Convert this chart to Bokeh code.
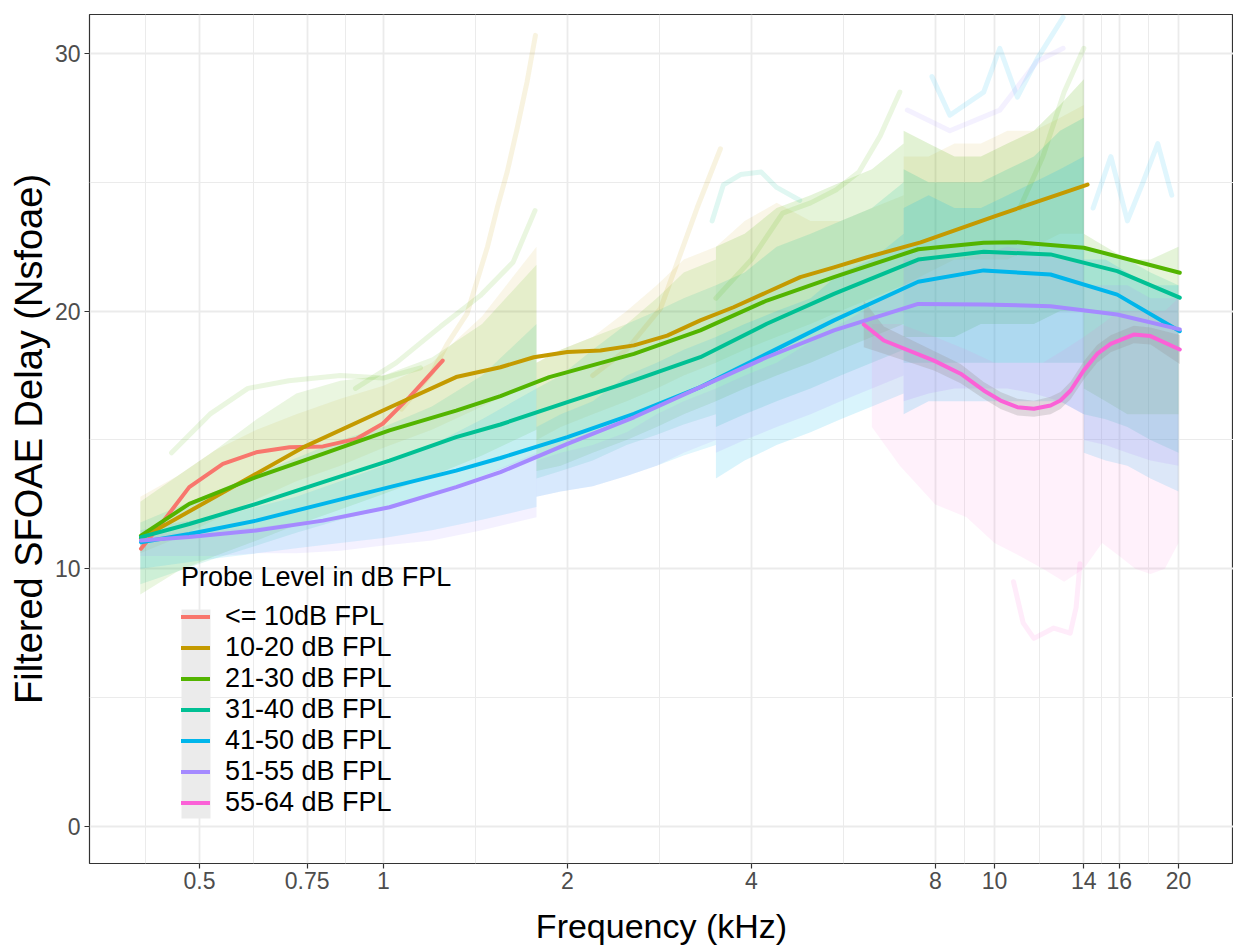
from bokeh.plotting import figure
from bokeh.models import (Range1d, FixedTicker, CustomJSTickFormatter, Legend,
                          LegendItem, BoxAnnotation)
from bokeh.embed import file_html
from bokeh.resources import INLINE

# ---------------- data ----------------
GROUPS = ["<= 10dB FPL", "10-20 dB FPL", "21-30 dB FPL", "31-40 dB FPL",
          "41-50 dB FPL", "51-55 dB FPL", "55-64 dB FPL"]
COLORS = ["#F8766D", "#C49A00", "#53B400", "#00C094", "#00B6EB", "#A58AFF", "#FB61D7"]

X_TICKS = [0.5, 0.75, 1, 2, 4, 8, 10, 14, 16, 20]
Y_TICKS = [0, 10, 20, 30]
Y_MINOR = [5, 15, 25]

# smoothed curves (frequency kHz, delay)
RED_F = [0.401, 0.435, 0.481, 0.546, 0.619, 0.702, 0.796, 0.902, 0.997, 1.103, 1.25]
RED_Y = [10.78, 11.81, 13.17, 14.07, 14.52, 14.72, 14.75, 15.04, 15.63, 16.66, 18.08]
ORANGE_F = [0.401, 0.546, 0.737, 1.023, 1.315, 1.554, 1.762, 2.0, 2.265, 2.57, 2.913,
            3.30, 3.74, 4.24, 4.81, 5.46, 6.19, 7.57, 10.0, 14.2]
ORANGE_Y = [11.18, 12.96, 14.7, 16.26, 17.44, 17.82, 18.21, 18.41, 18.47, 18.67, 19.05,
            19.64, 20.15, 20.73, 21.32, 21.7, 22.09, 22.67, 23.68, 24.91]
GREEN_F = [0.401, 0.481, 0.619, 0.796, 1.023, 1.315, 1.554, 1.868, 2.57, 3.30, 4.24,
           5.46, 7.5, 9.6, 10.88, 14.0, 20.1]
GREEN_Y = [11.29, 12.52, 13.56, 14.46, 15.37, 16.14, 16.7, 17.44, 18.34, 19.25, 20.41,
           21.32, 22.4, 22.65, 22.67, 22.46, 21.49]
MID_F = [0.401, 0.481, 0.619, 0.796, 1.023, 1.315, 1.554, 2.0, 2.57, 3.30, 4.24, 5.46,
         7.5, 9.6, 12.35, 15.88, 20.1]
TEAL_Y = [11.23, 11.74, 12.52, 13.36, 14.2, 15.11, 15.6, 16.47, 17.31, 18.21, 19.51,
          20.67, 22.0, 22.3, 22.2, 21.55, 20.52]
BLUE_Y = [11.03, 11.35, 11.87, 12.52, 13.17, 13.81, 14.3, 15.11, 16.01, 17.05, 18.34,
          19.64, 21.14, 21.58, 21.42, 20.64, 19.22]
PURPLE_Y = [11.1, 11.23, 11.49, 11.87, 12.39, 13.17, 13.75, 14.85, 15.88, 17.05, 18.21,
            19.25, 20.28, 20.26, 20.19, 19.87, 19.29]
PINK_F = [6.11, 6.59, 7.96, 8.8, 9.6, 10.23, 10.9, 11.6, 12.35, 12.82, 13.32, 14.0,
          14.72, 15.49, 16.9, 18.0, 20.1]
PINK_Y = [19.48, 18.86, 18.08, 17.57, 16.92, 16.53, 16.27, 16.21, 16.34, 16.53, 16.92,
          17.7, 18.34, 18.73, 19.09, 19.03, 18.51]
PINK_LO = [18.6, 18.35, 17.7, 17.2, 16.6, 16.2, 15.95, 15.9, 16.0, 16.2, 16.58, 17.35,
           18.0, 18.4, 18.75, 18.7, 17.95]
PINK_HI = [20.4, 19.4, 18.45, 17.95, 17.25, 16.86, 16.6, 16.52, 16.68, 16.86, 17.26,
           18.05, 18.68, 19.06, 19.43, 19.36, 19.07]

# point-cloud extents per recording segment (frequency grid, low, high)
SEG_A = [0.40, 0.46, 0.53, 0.62, 0.72, 0.85, 1.0, 1.2, 1.45, 1.78]
SEG_B = [1.78, 1.95, 2.2, 2.5, 2.8, 3.1, 3.5]
SEG_C = [3.5, 3.9, 4.4, 5.0, 5.6, 6.3, 7.1]
SEG_D = [7.1, 7.8, 8.6, 9.5, 10.5, 11.6, 12.8, 14.0]
SEG_E = [14.0, 15.2, 16.5, 18.0, 20.0]
SEG_P = [6.3, 7.0, 8.0, 9.0, 10.0, 11.0, 12.0, 13.0, 14.0, 15.0, 16.0, 17.0, 18.0, 19.0, 20.0]

ORANGE_A_LO = [10.6, 11.2, 11.9, 12.7, 13.4, 14.0, 14.7, 15.4, 16.3, 17.3]
ORANGE_A_HI = [12.8, 13.6, 14.6, 15.4, 16.0, 16.6, 17.1, 18.0, 19.8, 22.5]
GREEN_A_LO = [9.0, 9.9, 10.5, 11.1, 11.7, 12.3, 12.9, 13.6, 14.4, 15.4]
GREEN_A_HI = [12.6, 13.6, 14.6, 15.8, 16.8, 17.3, 17.5, 18.2, 19.5, 21.8]
TEAL_A_LO = [9.4, 9.9, 10.4, 10.9, 11.4, 11.9, 12.3, 12.9, 13.6, 14.4]
TEAL_A_HI = [11.8, 12.4, 13.0, 13.7, 14.3, 15.0, 15.5, 16.3, 17.5, 19.5]
BLUE_A_LO = [10.0, 10.2, 10.4, 10.6, 10.8, 11.0, 11.2, 11.5, 11.9, 12.4]
BLUE_A_HI = [11.5, 11.8, 12.0, 12.4, 12.8, 13.4, 14.0, 14.8, 15.8, 17.0]
PURPLE_A_LO = [10.5, 10.5, 10.5, 10.6, 10.6, 10.7, 10.9, 11.1, 11.5, 12.0]
PURPLE_A_HI = [11.3, 11.4, 11.5, 11.6, 11.8, 12.0, 12.4, 12.9, 13.6, 14.5]

ORANGE_B_LO = [15.0, 15.5, 16.0, 16.5, 17.0, 17.5, 18.0]
ORANGE_B_HI = [18.0, 18.5, 19.0, 20.0, 21.0, 22.0, 22.5]
GREEN_B_LO = [13.8, 14.0, 14.5, 15.0, 15.5, 16.0, 16.5]
GREEN_B_HI = [18.0, 18.5, 19.0, 19.5, 20.5, 21.5, 22.0]
TEAL_B_LO = [13.5, 13.8, 14.2, 14.8, 15.2, 15.6, 16.0]
TEAL_B_HI = [17.0, 17.5, 18.5, 19.5, 20.0, 20.5, 21.0]
BLUE_B_LO = [12.8, 13.0, 13.2, 13.6, 14.0, 14.4, 14.8]
BLUE_B_HI = [15.5, 16.0, 16.5, 17.5, 18.0, 18.5, 19.0]
PURPLE_B_LO = [12.8, 13.0, 13.2, 13.6, 14.0, 14.5, 15.0]
PURPLE_B_HI = [14.2, 14.5, 14.8, 15.3, 16.0, 16.5, 17.0]

ORANGE_C_LO = [18.0, 18.5, 19.0, 19.5, 20.0, 20.5, 21.0]
ORANGE_C_HI = [22.5, 23.5, 24.2, 23.5, 23.5, 24.0, 24.5]
GREEN_C_LO = [16.5, 17.0, 17.5, 18.0, 18.5, 19.0, 19.5]
GREEN_C_HI = [22.5, 23.0, 24.0, 24.5, 25.0, 25.5, 26.5]
TEAL_C_LO = [15.5, 16.0, 16.5, 17.0, 17.5, 18.0, 18.5]
TEAL_C_HI = [21.0, 21.5, 22.5, 23.0, 23.5, 24.0, 25.0]
BLUE_C_LO = [13.5, 14.2, 14.8, 15.3, 15.8, 16.3, 16.8]
BLUE_C_HI = [19.0, 19.5, 20.0, 20.5, 21.5, 22.0, 23.0]
PURPLE_C_LO = [14.5, 15.0, 15.5, 16.0, 16.5, 17.0, 17.5]
PURPLE_C_HI = [17.0, 17.5, 18.0, 18.8, 19.5, 20.2, 21.0]

ORANGE_D_LO = [21.0, 21.5, 22.0, 22.0, 22.0, 22.5, 23.0, 23.0]
ORANGE_D_HI = [26.0, 26.0, 26.5, 26.5, 27.0, 27.0, 27.5, 28.0]
GREEN_D_LO = [19.0, 19.0, 19.0, 19.5, 19.5, 19.5, 20.0, 20.0]
GREEN_D_HI = [27.0, 26.5, 26.0, 26.0, 26.5, 27.0, 28.0, 29.0]
TEAL_D_LO = [18.0, 18.0, 18.0, 18.0, 18.0, 18.0, 18.0, 18.0]
TEAL_D_HI = [25.5, 25.0, 25.0, 25.0, 25.5, 26.0, 27.0, 27.5]
BLUE_D_LO = [16.0, 16.5, 16.5, 16.5, 16.5, 16.5, 16.5, 16.0]
BLUE_D_HI = [24.0, 24.5, 24.0, 24.0, 24.5, 25.0, 25.5, 26.0]
PURPLE_D_LO = [16.5, 16.8, 17.0, 17.0, 17.0, 16.8, 16.5, 16.0]
PURPLE_D_HI = [22.0, 22.0, 22.0, 22.2, 22.5, 22.3, 22.0, 22.0]

GREEN_E_LO = [17.0, 16.5, 16.0, 16.0, 16.0]
GREEN_E_HI = [23.0, 22.5, 22.0, 22.0, 22.5]
TEAL_E_LO = [16.0, 15.8, 15.5, 15.0, 14.5]
TEAL_E_HI = [22.5, 22.3, 22.0, 21.5, 21.0]
BLUE_E_LO = [14.5, 14.2, 14.0, 13.5, 13.0]
BLUE_E_HI = [22.0, 22.0, 21.5, 21.0, 21.0]
PURPLE_E_LO = [15.0, 14.8, 14.5, 14.2, 14.0]
PURPLE_E_HI = [21.0, 21.0, 21.0, 20.5, 20.5]

PINK_P_LO = [15.5, 14.0, 12.5, 12.0, 11.0, 10.5, 10.0, 9.5, 10.0, 11.0, 10.5, 10.0, 9.8, 10.0, 11.0]
PINK_P_HI = [19.5, 19.5, 19.0, 18.5, 18.0, 18.0, 18.0, 18.5, 19.0, 19.5, 20.0, 20.0, 20.0, 20.0, 20.5]

# individual outlying traces
T1_F = [1.07, 1.2, 1.27, 1.37, 1.48, 1.535, 1.594, 1.655, 1.718, 1.773]
T1_Y = [16.2, 17.6, 18.7, 19.9, 22.5, 24.0, 25.4, 27.1, 28.9, 30.7]
T2_F = [0.9, 1.05, 1.24, 1.44, 1.63, 1.77]
T2_Y = [17.0, 18.0, 19.4, 20.6, 21.9, 23.9]
T3_F = [2.2, 2.5, 2.84, 3.06, 3.26, 3.56]
T3_Y = [17.5, 18.5, 20.1, 22.2, 24.0, 26.3]
T4_F = [3.45, 3.6, 3.84, 4.15, 4.4, 4.8]
T4_Y = [23.5, 24.9, 25.3, 25.4, 24.8, 24.3]
T5_F = [3.5, 4.0, 4.5, 5.0, 5.5, 6.0, 6.5, 7.0]
T5_Y = [20.5, 22.0, 23.8, 24.2, 24.7, 25.4, 26.8, 28.5]
T6_F = [7.9, 8.45, 9.6, 10.2, 10.9, 11.75, 12.95]
T6_Y = [29.1, 27.6, 28.5, 30.2, 28.3, 29.8, 31.4]
T7_F = [7.2, 8.45, 10.2, 11.75, 12.95]
T7_Y = [27.8, 27.0, 27.8, 29.7, 30.2]
T8_F = [11.0, 12.0, 13.0, 14.0]
T8_Y = [24.0, 26.0, 28.5, 30.2]
T9_F = [10.74, 11.14, 11.6, 12.5, 13.3, 13.6, 13.8]
T9_Y = [9.5, 7.9, 7.3, 7.7, 7.5, 8.5, 10.2]
T10_F = [0.45, 0.52, 0.6, 0.7, 0.85, 1.0, 1.15]
T10_Y = [14.5, 16.0, 17.0, 17.3, 17.5, 17.4, 17.8]
T11_F = [14.5, 15.5, 16.5, 17.5, 18.5, 19.5]
T11_Y = [24.0, 26.0, 23.5, 25.0, 26.5, 24.5]

# ---------------- figure ----------------
FONT = "Liberation Sans"
p = figure(width=1233, height=947, x_axis_type="log",
           x_range=Range1d(0.3303, 24.61), y_range=Range1d(-1.436, 31.51),
           output_backend="svg", toolbar_location=None,
           min_border_left=89, min_border_right=0, min_border_top=14,
           min_border_bottom=84)
p.background_fill_color = "white"
p.border_fill_color = "white"
p.outline_line_color = "#333333"
p.outline_line_width = 1.2

bands = [
    (1, SEG_A, ORANGE_A_LO, ORANGE_A_HI), (2, SEG_A, GREEN_A_LO, GREEN_A_HI),
    (3, SEG_A, TEAL_A_LO, TEAL_A_HI), (4, SEG_A, BLUE_A_LO, BLUE_A_HI),
    (5, SEG_A, PURPLE_A_LO, PURPLE_A_HI),
    (1, SEG_B, ORANGE_B_LO, ORANGE_B_HI), (2, SEG_B, GREEN_B_LO, GREEN_B_HI),
    (3, SEG_B, TEAL_B_LO, TEAL_B_HI), (4, SEG_B, BLUE_B_LO, BLUE_B_HI),
    (5, SEG_B, PURPLE_B_LO, PURPLE_B_HI),
    (1, SEG_C, ORANGE_C_LO, ORANGE_C_HI), (2, SEG_C, GREEN_C_LO, GREEN_C_HI),
    (3, SEG_C, TEAL_C_LO, TEAL_C_HI), (4, SEG_C, BLUE_C_LO, BLUE_C_HI),
    (5, SEG_C, PURPLE_C_LO, PURPLE_C_HI),
    (1, SEG_D, ORANGE_D_LO, ORANGE_D_HI), (2, SEG_D, GREEN_D_LO, GREEN_D_HI),
    (3, SEG_D, TEAL_D_LO, TEAL_D_HI), (4, SEG_D, BLUE_D_LO, BLUE_D_HI),
    (5, SEG_D, PURPLE_D_LO, PURPLE_D_HI),
    (2, SEG_E, GREEN_E_LO, GREEN_E_HI), (3, SEG_E, TEAL_E_LO, TEAL_E_HI),
    (4, SEG_E, BLUE_E_LO, BLUE_E_HI), (5, SEG_E, PURPLE_E_LO, PURPLE_E_HI),
    (6, SEG_P, PINK_P_LO, PINK_P_HI),
]
for gi, fx, lo, hi in bands:
    if gi in (1, 6):
        a = 0.09
    elif fx is SEG_D:
        a = 0.17
    elif fx is SEG_E or fx is SEG_C:
        a = 0.15
    else:
        a = 0.12
    p.varea(x=fx, y1=lo, y2=hi, fill_color=COLORS[gi], fill_alpha=a)

traces = [(1, T1_F, T1_Y), (2, T2_F, T2_Y), (1, T3_F, T3_Y), (3, T4_F, T4_Y),
          (2, T5_F, T5_Y), (4, T6_F, T6_Y), (5, T7_F, T7_Y), (2, T8_F, T8_Y),
          (6, T9_F, T9_Y), (2, T10_F, T10_Y), (4, T11_F, T11_Y)]
for gi, fx, fy in traces:
    p.line(fx, fy, line_color=COLORS[gi], line_alpha=0.12, line_width=5,
           line_cap="round", line_join="round")

# confidence ribbon of the loudest group
p.varea(x=PINK_F, y1=PINK_LO, y2=PINK_HI, fill_color="#999999", fill_alpha=0.3)

curves = [(RED_F, RED_Y), (ORANGE_F, ORANGE_Y), (GREEN_F, GREEN_Y), (MID_F, TEAL_Y),
          (MID_F, BLUE_Y), (MID_F, PURPLE_Y), (PINK_F, PINK_Y)]
renderers = []
for gi, (fx, fy) in enumerate(curves):
    r = p.line(fx, fy, line_color=COLORS[gi], line_width=4, line_join="round",
               line_cap="round")
    renderers.append(r)

# ---------------- axes & grid ----------------
x_minor = [X_TICKS[0] / (X_TICKS[1] / X_TICKS[0]) ** 0.5] + \
          [(a * b) ** 0.5 for a, b in zip(X_TICKS[:-1], X_TICKS[1:])]
p.xaxis.ticker = FixedTicker(ticks=X_TICKS, minor_ticks=x_minor)
p.xaxis.formatter = CustomJSTickFormatter(code="return String(tick);")
p.yaxis.ticker = FixedTicker(ticks=Y_TICKS, minor_ticks=Y_MINOR)

for ax in (p.xaxis[0], p.yaxis[0]):
    ax.axis_line_color = None
    ax.major_tick_line_color = "#333333"
    ax.major_tick_line_width = 1.2
    ax.major_tick_in = 0
    ax.major_tick_out = 5
    ax.minor_tick_line_color = None
    ax.major_label_text_color = "#4D4D4D"
    ax.major_label_text_font = FONT
    ax.major_label_text_font_size = "23px"
    ax.axis_label_text_font = FONT
    ax.axis_label_text_font_style = "normal"
    ax.axis_label_text_color = "black"

p.xaxis.axis_label = "Frequency (kHz)"
p.xaxis.axis_label_text_font_size = "34px"
p.xaxis.major_label_standoff = 3
p.xaxis.axis_label_standoff = 15
p.yaxis.axis_label = "Filtered SFOAE Delay (Nsfoae)"
p.yaxis.axis_label_text_font_size = "38px"
p.yaxis.major_label_standoff = 4
p.yaxis.axis_label_standoff = 2

for g in (p.xgrid[0], p.ygrid[0]):
    g.grid_line_color = "#EBEBEB"
    g.grid_line_width = 1.8
    g.minor_grid_line_color = "#EBEBEB"
    g.minor_grid_line_width = 1

# ---------------- legend ----------------
p.add_layout(BoxAnnotation(left=181, right=210, top=609, bottom=818,
                           left_units="canvas", right_units="canvas",
                           top_units="canvas", bottom_units="canvas",
                           fill_color="#EBEBEB", fill_alpha=1, line_color=None))
legend = Legend(items=[LegendItem(label=g, renderers=[r]) for g, r in zip(GROUPS, renderers)],
                location=(92, 45), title="Probe Level in dB FPL",
                title_text_font=FONT, title_text_font_size="27px",
                title_text_font_style="normal", title_text_color="black",
                title_standoff=8,
                label_text_font=FONT, label_text_font_size="27px",
                label_text_color="black",
                glyph_width=29, glyph_height=29, label_height=29,
                spacing=0, padding=0, margin=0, label_standoff=15,
                background_fill_alpha=0, border_line_color=None)
p.add_layout(legend)

open("out.html", "w").write(file_html(p, INLINE))
